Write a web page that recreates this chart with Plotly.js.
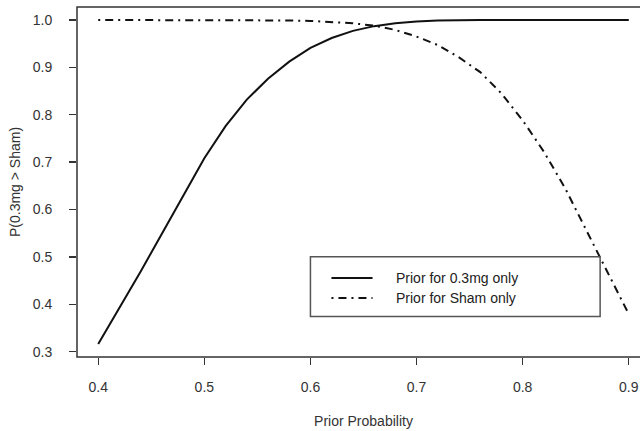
<!DOCTYPE html>
<html><head><meta charset="utf-8">
<script src="https://cdn.plot.ly/plotly-3.0.1.min.js"></script>
<style>html,body{margin:0;padding:0;overflow:hidden;background:#fff;width:640px;height:431px}</style>
</head><body><div id="chart"></div>
<script>
// Data
const priorProb = [0.40,0.42,0.44,0.46,0.48,0.50,0.52,0.54,0.56,0.58,0.60,0.62,0.64,0.66,0.68,0.70,0.72,0.74,0.76,0.78,0.80,0.82,0.84,0.86,0.88,0.90];
const pPrior03mg = [0.316,0.392,0.469,0.549,0.630,0.708,0.776,0.832,0.876,0.912,0.941,0.962,0.977,0.987,0.993,0.997,0.999,1.0,1.0,1.0,1.0,1.0,1.0,1.0,1.0,1.0];
const pPriorSham = [1.0,1.0,1.0,1.0,1.0,1.0,1.0,1.0,1.0,0.999,0.998,0.996,0.993,0.988,0.979,0.965,0.947,0.921,0.890,0.845,0.788,0.722,0.645,0.556,0.467,0.379];
const seriesNames = ['Prior for 0.3mg only','Prior for Sham only'];
const xTickVals = [0.4,0.5,0.6,0.7,0.8,0.9];
const xTickText = ['0.4','0.5','0.6','0.7','0.8','0.9'];
const yTickVals = [0.3,0.4,0.5,0.6,0.7,0.8,0.9,1.0];
const yTickText = ['0.3','0.4','0.5','0.6','0.7','0.8','0.9','1.0'];
const xTitle = 'Prior Probability';
const yTitle = 'P(0.3mg > Sham)';

const FONT = 'Liberation Sans, Arial, Helvetica, sans-serif';
const INK = '#111';
const AX = '#333';
const DOTDASH = '2px,5px,8px,5px';

const traces = [
  {x: priorProb, y: pPrior03mg, name: seriesNames[0], type: 'scatter', mode: 'lines',
   line: {color: INK, width: 2}, showlegend: false, hoverinfo: 'skip'},
  {x: priorProb, y: pPriorSham, name: seriesNames[1], type: 'scatter', mode: 'lines',
   line: {color: INK, width: 2, dash: DOTDASH}, showlegend: false, hoverinfo: 'skip'}
];

// legend box geometry (data coordinates, like R's legend(x, y))
const lgX0 = 0.6, lgX1 = 0.873, lgY0 = 0.374, lgY1 = 0.5;
const lgRows = [0.4555, 0.4133];
const lgLineX = [0.6198, 0.6585];
const lgTextX = 0.6783;

const layout = {
  width: 660, height: 431,
  margin: {l: 77, r: 10, t: 7, b: 74},
  paper_bgcolor: '#fff', plot_bgcolor: '#fff',
  font: {family: FONT, size: 14, color: AX},
  xaxis: {
    range: [0.38, 0.92], tickvals: xTickVals, ticktext: xTickText,
    ticks: 'outside', ticklen: 7, tickwidth: 1.3, tickcolor: AX,
    showgrid: false, zeroline: false, showline: false,
    ticklabelstandoff: 10,
    tickfont: {family: FONT, size: 14, color: AX},
    title: {text: xTitle, font: {family: FONT, size: 14, color: AX}, standoff: 22}
  },
  yaxis: {
    range: [0.2886, 1.0274], tickvals: yTickVals, ticktext: yTickText,
    ticks: 'outside', ticklen: 7, tickwidth: 1.3, tickcolor: AX,
    showgrid: false, zeroline: false, showline: false,
    ticklabelstandoff: 14,
    tickfont: {family: FONT, size: 14, color: AX},
    title: {text: yTitle, font: {family: FONT, size: 14, color: AX}, standoff: 8}
  },
  shapes: [
    {type: 'rect', xref: 'paper', yref: 'paper', x0: 0, x1: 1, y0: 0, y1: 1,
     line: {color: AX, width: 1.5}, layer: 'above'},
    {type: 'rect', xref: 'x', yref: 'y', x0: lgX0, x1: lgX1, y0: lgY0, y1: lgY1,
     line: {color: '#555', width: 1.5}, fillcolor: 'rgba(0,0,0,0)'},
    {type: 'line', xref: 'x', yref: 'y', x0: lgLineX[0], x1: lgLineX[1], y0: lgRows[0], y1: lgRows[0],
     line: {color: INK, width: 2}},
    {type: 'line', xref: 'x', yref: 'y', x0: lgLineX[0], x1: lgLineX[1], y0: lgRows[1], y1: lgRows[1],
     line: {color: INK, width: 2, dash: DOTDASH}}
  ],
  annotations: seriesNames.map((t, i) => ({
    xref: 'x', yref: 'y', x: lgTextX, y: lgRows[i], text: t, showarrow: false,
    xanchor: 'left', yanchor: 'middle', font: {family: FONT, size: 14, color: '#222'}
  }))
};

Plotly.newPlot('chart', traces, layout, {staticPlot: true, displayModeBar: false, responsive: false});
</script>
</body></html>
